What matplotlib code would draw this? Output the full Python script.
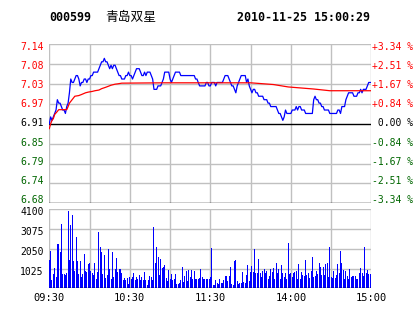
import numpy as np
import matplotlib
matplotlib.use("Agg")
import matplotlib.pyplot as plt
import matplotlib.transforms as mtransforms

# header
code = "000599"
name = "青岛双星"
stamp = "2010-11-25 15:00:29"
pre_close = 6.91
max_pct = 0.0334

price_labels = ["7.14", "7.08", "7.03", "6.97", "6.91", "6.85", "6.79", "6.74", "6.68"]
pct_labels = ["+3.34 %", "+2.51 %", "+1.67 %", "+0.84 %", " 0.00 %",
              "-0.84 %", "-1.67 %", "-2.51 %", "-3.34 %"]
vol_levels = [4100, 3075, 2050, 1025]
time_ticks = [0, 60, 120, 180, 240]
time_labels = ["09:30", "10:30", "11:30", "14:00", "15:00"]

# minute prices 09:30 - 11:30
price_am = [6.91, 6.93, 6.92, 6.93, 6.94, 6.95, 6.98, 6.97, 6.97, 6.96,
            6.95, 6.95, 6.94, 6.96, 6.97, 7.00, 7.04, 7.03, 7.03, 7.04,
            7.05, 7.05, 7.04, 7.02, 7.03, 7.03, 7.04, 7.04, 7.03, 7.04,
            7.04, 7.05, 7.05, 7.06, 7.06, 7.06, 7.06, 7.07, 7.08, 7.09,
            7.09, 7.10, 7.09, 7.09, 7.08, 7.07, 7.08, 7.07, 7.08, 7.08,
            7.07, 7.06, 7.05, 7.05, 7.04, 7.04, 7.04, 7.05, 7.05, 7.06,
            7.05, 7.05, 7.04, 7.05, 7.06, 7.07, 7.07, 7.07, 7.06, 7.05,
            7.05, 7.06, 7.05, 7.06, 7.06, 7.06, 7.05, 7.04, 7.01, 7.01,
            7.01, 7.02, 7.02, 7.02, 7.03, 7.04, 7.06, 7.06, 7.06, 7.06,
            7.04, 7.03, 7.04, 7.05, 7.06, 7.06, 7.06, 7.06, 7.05, 7.05,
            7.05, 7.05, 7.05, 7.05, 7.05, 7.05, 7.05, 7.05, 7.05, 7.04,
            7.04, 7.03, 7.02, 7.02, 7.02, 7.02, 7.02, 7.03, 7.03, 7.02,
            7.02]
# minute prices 13:01 - 15:00
price_pm = [7.03, 7.03, 7.03, 7.02, 7.03, 7.03, 7.03, 7.03, 7.03,
            7.04, 7.05, 7.05, 7.05, 7.04, 7.03, 7.02, 7.02, 7.01, 7.00,
            7.02, 7.03, 7.04, 7.05, 7.05, 7.05, 7.05, 7.03, 7.04, 7.02,
            7.01, 7.00, 7.01, 7.01, 7.00, 7.00, 6.99, 6.99, 6.99, 6.99,
            6.98, 6.98, 6.98, 6.97, 6.97, 6.96, 6.96, 6.96, 6.96, 6.96,
            6.95, 6.94, 6.94, 6.93, 6.92, 6.93, 6.95, 6.94, 6.94, 6.94,
            6.94, 6.95, 6.95, 6.95, 6.96, 6.95, 6.96, 6.96, 6.95, 6.95,
            6.95, 6.94, 6.94, 6.94, 6.94, 6.94, 6.94, 6.98, 6.99, 6.98,
            6.98, 6.97, 6.97, 6.96, 6.96, 6.95, 6.95, 6.95, 6.95, 6.94,
            6.94, 6.94, 6.94, 6.94, 6.94, 6.95, 6.95, 6.94, 6.96, 6.96,
            6.96, 6.98, 6.99, 7.00, 7.00, 7.00, 7.00, 6.99, 6.99, 6.99,
            7.00, 7.00, 7.01, 7.00, 7.01, 7.01, 7.01, 7.02, 7.03, 7.03,
            7.03]

# average price line, read at the minutes where it changes
avg_minute = [0, 1, 2, 3, 4, 6, 7, 13, 14, 15, 17, 18, 19, 22, 24, 27, 29, 32, 34, 37,
              39, 42, 44, 46, 49, 51, 54, 86, 150, 167, 178, 197, 209, 240]
avg_price = [6.896, 6.91, 6.92, 6.925, 6.937, 6.946, 6.951, 6.951, 6.96, 6.97,
             6.98, 6.985, 6.99, 6.992, 6.995, 7.0, 7.002, 7.004, 7.006, 7.008,
             7.012, 7.016, 7.019, 7.022, 7.025, 7.026, 7.028, 7.029, 7.029, 7.024,
             7.017, 7.011, 7.006, 7.006]

vol_am = [1470, 1940, 430, 740, 1050, 570, 2300, 2300, 1890, 3340,
          740, 740, 690, 810, 4010, 1470, 3290, 3810, 1400, 920,
          2660, 1400, 740, 1420, 570, 740, 1780, 920, 850, 1260,
          1300, 920, 810, 680, 1300, 500, 830, 2900, 2160, 1890,
          740, 1730, 520, 710, 2040, 990, 500, 1890, 590, 990,
          1560, 850, 990, 990, 810, 450, 520, 410, 540, 220,
          570, 470, 600, 800, 410, 600, 470, 710, 430, 600,
          410, 860, 430, 190, 430, 640, 570, 430, 3180, 1300,
          2140, 1610, 680, 1500, 1070, 1120, 1190, 520, 380, 950,
          500, 740, 430, 500, 730, 220, 220, 260, 430, 1090,
          330, 640, 880, 400, 950, 610, 950, 500, 920, 500,
          470, 500, 540, 990, 600, 500, 470, 500, 500, 500,
          570]
vol_pm = [2090, 160, 160, 430, 260, 210, 470, 300, 260, 430,
          640, 640, 400, 640, 1120, 220, 160, 1420, 1470, 400,
          210, 300, 300, 850, 330, 300, 690, 1210, 400, 870,
          1160, 870, 2040, 810, 810, 1500, 810, 600, 880, 990,
          780, 900, 470, 640, 990, 850, 1040, 500, 1300, 780,
          990, 470, 1210, 810, 600, 810, 500, 2370, 740, 810,
          600, 810, 850, 880, 500, 1260, 470, 870, 690, 640,
          1470, 690, 810, 520, 920, 1630, 600, 640, 880, 740,
          1300, 1120, 690, 1120, 690, 1260, 1330, 600, 2140, 570,
          520, 920, 550, 670, 1260, 780, 1940, 1300, 950, 500,
          920, 640, 500, 990, 600, 620, 620, 640, 470, 470,
          800, 1060, 810, 640, 2140, 780, 950, 740, 740, 1990]

price = np.array(price_am + price_pm)
vol = np.array(vol_am + vol_pm)
minutes = np.arange(len(price))

W, H = 414, 314
GRID = "#c0c0c0"
RED = "#ff0000"
GREEN = "#006600"
BLUE = "#0000ff"
MONO = "DejaVu Sans Mono"


def box(l, t, r, b):
    return [l / W, 1 - b / H, (r - l) / W, (b - t) / H]


fig = plt.figure(figsize=(W / 100, H / 100), dpi=100)
fig.patch.set_facecolor("white")
ax = fig.add_axes(box(49.3, 44.3, 371.4, 203.3))
axv = fig.add_axes(box(49.3, 209.3, 371.4, 288.3))

for a in (ax, axv):
    a.set_xlim(0, 240)
    for s in a.spines.values():
        s.set_visible(False)
    a.set_xticks([])
    a.set_yticks([])
    for m in range(0, 241, 30):
        a.axvline(m, color=GRID, lw=1, zorder=0)

# price panel
lo, hi = pre_close * (1 - max_pct), pre_close * (1 + max_pct)
ax.set_ylim(lo, hi)
levels = np.linspace(hi, lo, 9)
for i, lv in enumerate(levels):
    black = i in (4, 8)
    ax.axhline(lv, color="black" if black else GRID, lw=1, zorder=0 if not black else 1)

ax.plot(minutes, price, color=BLUE, lw=0.9, zorder=3)
ax.plot(avg_minute, avg_price, color=RED, lw=0.9, zorder=4)

for i in range(9):
    col = RED if i < 4 else ("black" if i == 4 else GREEN)
    yf = 0.983 - i * (0.962 / 8)
    ax.text(-0.017, yf, price_labels[i], transform=ax.transAxes, ha="right", va="center",
            color=col, fontsize=7, family=MONO)
    ax.text(1.002, yf, pct_labels[i], transform=ax.transAxes, ha="left", va="center",
            color=col, fontsize=7, family=MONO)

# volume panel
axv.set_ylim(0, 4100)
axv.bar(minutes, vol, width=0.75, color=BLUE, linewidth=0, zorder=2, antialiased=False)
for lv in vol_levels:
    axv.axhline(lv, color=GRID, lw=1, zorder=0)
axv.axhline(0, color="black", lw=1, zorder=3)
off = mtransforms.ScaledTranslation(0, -3 / 100, fig.dpi_scale_trans)
for lv in vol_levels:
    axv.text(-0.017, lv, str(lv), transform=mtransforms.blended_transform_factory(axv.transAxes, axv.transData) + off,
             ha="right", va="center", fontsize=7, family=MONO, color="black")
for m, lab in zip(time_ticks, time_labels):
    axv.text(m, -0.127, lab, transform=mtransforms.blended_transform_factory(axv.transData, axv.transAxes),
             ha="center", va="center", fontsize=7.5, family=MONO, color="black")

# title row
ty = 1 - 17.5 / H
fig.text(49.3 / W, ty, code, ha="left", va="center", fontsize=8.4, family=MONO, weight="bold")
fig.text(105 / W, ty, name, ha="left", va="center", fontsize=9.2, family=["Noto Sans CJK SC", "DejaVu Sans"])
fig.text(237.3 / W, ty, stamp, ha="left", va="center", fontsize=8.4, family=MONO, weight="bold")

fig.savefig("out.png", dpi=100, facecolor="white")
